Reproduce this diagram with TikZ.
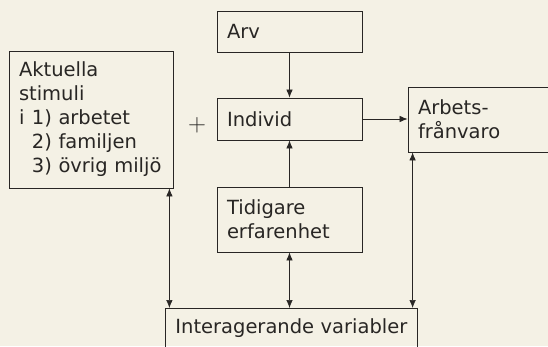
\documentclass[tikz,border=0pt]{standalone}
\usepackage{fontspec}
\setmainfont{DejaVu Sans}
\usetikzlibrary{arrows.meta,calc}
\definecolor{paper}{RGB}{244,241,229}
\definecolor{ink}{RGB}{40,38,36}
\begin{document}
\begin{tikzpicture}[x=1pt,y=1pt,
  box/.style={draw=ink,line width=0.8pt,rectangle,inner xsep=10pt,inner ysep=0pt,
    align=left,text=ink,font=\fontsize{19.5}{24}\selectfont,anchor=center},
  tip/.tip={Latex[length=8pt,width=6.5pt]},
  conn/.style={draw=ink,line width=0.7pt,-tip},
  dconn/.style={draw=ink,line width=0.7pt,tip-tip}]
\fill[paper] (0,0) rectangle (548,346);
\clip (0,0) rectangle (548,346);
\useasboundingbox (0,0) rectangle (548,346);
% boxes (y = 346 - pixel row)
\node[box,minimum width=145,minimum height=41,text width=125] (arv) at (289.5,314.5) {Arv};
\node[box,minimum width=145,minimum height=42,text width=125] (ind) at (289.5,227) {Individ};
\node[box,minimum width=145,minimum height=65,text width=125] (tid) at (289.5,126.5) {Tidigare\\erfarenhet};
\node[box,minimum width=164,minimum height=137,text width=144] (akt) at (91,226.5)
  {Aktuella\\stimuli\\\makebox[13pt][l]{i}1) arbetet\\\makebox[13pt][l]{}2) familjen\\\makebox[13pt][l]{}3) övrig miljö};
\node[box,minimum width=170,minimum height=65,text width=150] (arb) at (493,226.5) {Arbets-\\frånvaro};
\node[box,minimum width=252,text width=232,text height=25pt,text depth=35pt,anchor=north west] (int) at (165,38) {Interagerande variabler};
\node[text=ink,font=\fontsize{24}{24}\selectfont,inner sep=0pt] (plus) at (197,221) {$+$};
% connectors
\draw[conn] (arv) -- (ind);
\draw[conn] (tid) -- (ind);
\draw[conn] (ind.east) -- (ind.east -| arb.west);
\draw[dconn] ([xshift=-4pt]akt.south east) -- ([xshift=-4pt]akt.south east |- int.north);
\draw[dconn] (tid.south) -- (tid.south |- int.north);
\draw[dconn] ([xshift=5pt]arb.south west) -- ([xshift=5pt]arb.south west |- int.north);
\end{tikzpicture}
\end{document}
